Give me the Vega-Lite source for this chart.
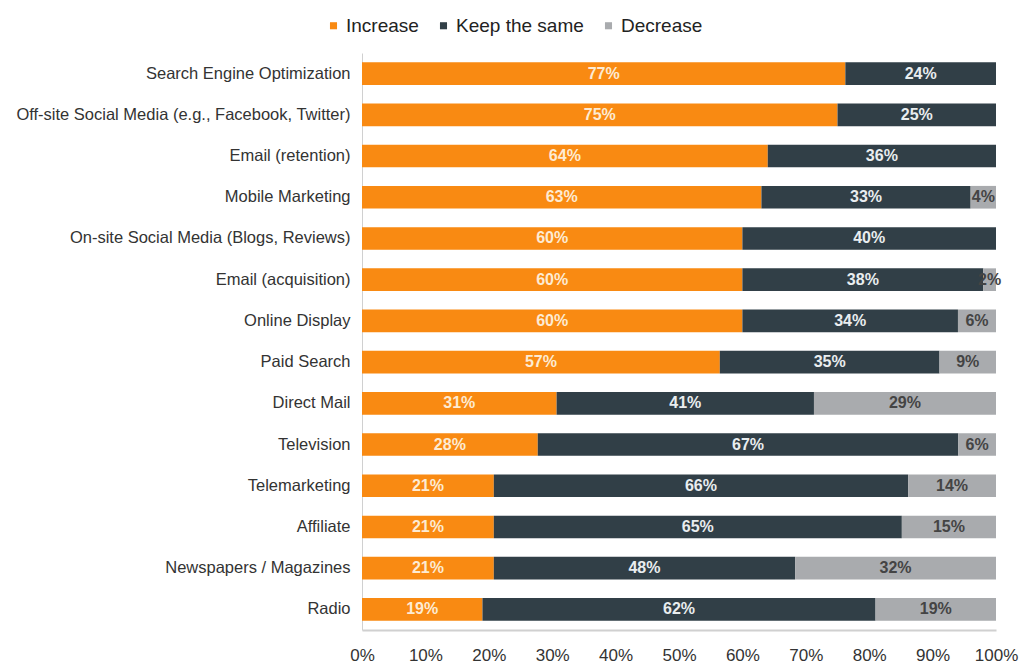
{
  "$schema": "https://vega.github.io/schema/vega-lite/v6.json",
  "width": 634,
  "height": 577,
  "autosize": "none",
  "padding": {"left": 362, "top": 53, "right": 24, "bottom": 36},
  "background": "white",
  "config": {
    "view": {"stroke": null},
    "font": "Liberation Sans"
  },
  "data": {
    "values": [
      {"channel": "Search Engine Optimization", "response": "Increase", "o": 1, "value": 0.77},
      {"channel": "Search Engine Optimization", "response": "Keep the same", "o": 2, "value": 0.24},
      {"channel": "Off-site Social Media (e.g., Facebook, Twitter)", "response": "Increase", "o": 1, "value": 0.75},
      {"channel": "Off-site Social Media (e.g., Facebook, Twitter)", "response": "Keep the same", "o": 2, "value": 0.25},
      {"channel": "Email (retention)", "response": "Increase", "o": 1, "value": 0.64},
      {"channel": "Email (retention)", "response": "Keep the same", "o": 2, "value": 0.36},
      {"channel": "Mobile Marketing", "response": "Increase", "o": 1, "value": 0.63},
      {"channel": "Mobile Marketing", "response": "Keep the same", "o": 2, "value": 0.33},
      {"channel": "Mobile Marketing", "response": "Decrease", "o": 3, "value": 0.04},
      {"channel": "On-site Social Media (Blogs, Reviews)", "response": "Increase", "o": 1, "value": 0.60},
      {"channel": "On-site Social Media (Blogs, Reviews)", "response": "Keep the same", "o": 2, "value": 0.40},
      {"channel": "Email (acquisition)", "response": "Increase", "o": 1, "value": 0.60},
      {"channel": "Email (acquisition)", "response": "Keep the same", "o": 2, "value": 0.38},
      {"channel": "Email (acquisition)", "response": "Decrease", "o": 3, "value": 0.02},
      {"channel": "Online Display", "response": "Increase", "o": 1, "value": 0.60},
      {"channel": "Online Display", "response": "Keep the same", "o": 2, "value": 0.34},
      {"channel": "Online Display", "response": "Decrease", "o": 3, "value": 0.06},
      {"channel": "Paid Search", "response": "Increase", "o": 1, "value": 0.57},
      {"channel": "Paid Search", "response": "Keep the same", "o": 2, "value": 0.35},
      {"channel": "Paid Search", "response": "Decrease", "o": 3, "value": 0.09},
      {"channel": "Direct Mail", "response": "Increase", "o": 1, "value": 0.31},
      {"channel": "Direct Mail", "response": "Keep the same", "o": 2, "value": 0.41},
      {"channel": "Direct Mail", "response": "Decrease", "o": 3, "value": 0.29},
      {"channel": "Television", "response": "Increase", "o": 1, "value": 0.28},
      {"channel": "Television", "response": "Keep the same", "o": 2, "value": 0.67},
      {"channel": "Television", "response": "Decrease", "o": 3, "value": 0.06},
      {"channel": "Telemarketing", "response": "Increase", "o": 1, "value": 0.21},
      {"channel": "Telemarketing", "response": "Keep the same", "o": 2, "value": 0.66},
      {"channel": "Telemarketing", "response": "Decrease", "o": 3, "value": 0.14},
      {"channel": "Affiliate", "response": "Increase", "o": 1, "value": 0.21},
      {"channel": "Affiliate", "response": "Keep the same", "o": 2, "value": 0.65},
      {"channel": "Affiliate", "response": "Decrease", "o": 3, "value": 0.15},
      {"channel": "Newspapers / Magazines", "response": "Increase", "o": 1, "value": 0.21},
      {"channel": "Newspapers / Magazines", "response": "Keep the same", "o": 2, "value": 0.48},
      {"channel": "Newspapers / Magazines", "response": "Decrease", "o": 3, "value": 0.32},
      {"channel": "Radio", "response": "Increase", "o": 1, "value": 0.19},
      {"channel": "Radio", "response": "Keep the same", "o": 2, "value": 0.62},
      {"channel": "Radio", "response": "Decrease", "o": 3, "value": 0.19}
    ]
  },
  "encoding": {
    "y": {
      "field": "channel",
      "type": "nominal",
      "sort": null,
      "scale": {"paddingInner": 0.45, "paddingOuter": 0.225},
      "axis": {
        "title": null,
        "ticks": false,
        "labelPadding": 12,
        "labelFontSize": 16.5,
        "labelColor": "#333333",
        "labelLimit": 400,
        "domainColor": "#d0d0d0",
        "domainWidth": 1
      }
    }
  },
  "layer": [
    {
      "mark": {"type": "bar"},
      "encoding": {
        "x": {
          "field": "value",
          "type": "quantitative",
          "stack": "normalize",
          "scale": {"domain": [0, 1], "nice": false},
          "axis": {
            "title": null,
            "format": ".0%",
            "values": [0, 0.1, 0.2, 0.3, 0.4, 0.5, 0.6, 0.7, 0.8, 0.9, 1],
            "grid": false,
            "ticks": false,
            "labelPadding": 17,
            "labelFontSize": 17,
            "labelColor": "#333333",
            "domainColor": "#d0d0d0",
            "domainWidth": 2,
            "labelFlush": false
          }
        },
        "color": {
          "field": "response",
          "type": "nominal",
          "sort": ["Increase", "Keep the same", "Decrease"],
          "scale": {
            "domain": ["Increase", "Keep the same", "Decrease"],
            "range": ["#F98A12", "#313F47", "#A9ABAE"]
          },
          "legend": {
            "title": null,
            "orient": "none",
            "direction": "horizontal",
            "legendX": -38,
            "legendY": -37,
            "symbolType": "square",
            "symbolSize": 50,
            "symbolStrokeWidth": 0,
            "labelFontSize": 19,
            "labelColor": "#222222",
            "labelOffset": 3,
            "columnPadding": 15
          }
        },
        "order": {"field": "o", "type": "quantitative"}
      }
    },
    {
      "mark": {"type": "text", "fontSize": 16, "fontWeight": "bold"},
      "encoding": {
        "x": {
          "field": "value",
          "type": "quantitative",
          "stack": "normalize",
          "bandPosition": 0.5
        },
        "order": {"field": "o", "type": "quantitative"},
        "text": {"field": "value", "type": "quantitative", "format": ".0%"},
        "color": {
          "condition": [
            {"test": "datum.response === 'Decrease'", "value": "#444444"},
            {"test": "datum.response === 'Increase'", "value": "#FDEBD3"}
          ],
          "value": "#E9EDEF"
        }
      }
    }
  ]
}
